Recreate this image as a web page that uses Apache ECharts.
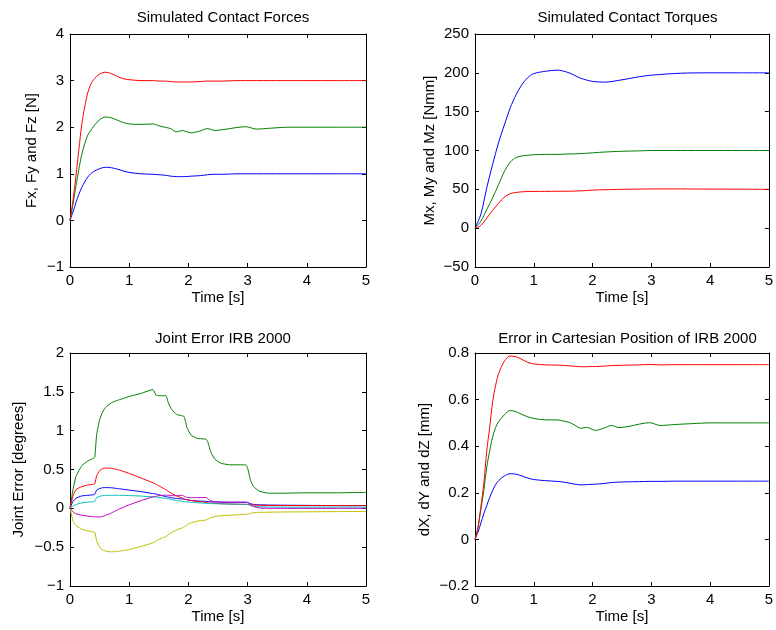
<!DOCTYPE html>
<html>
<head>
<meta charset="utf-8">
<script src="https://cdn.jsdelivr.net/npm/echarts@6/dist/echarts.min.js"></script>
<style>
    html, body { margin: 0; padding: 0; background: #fff; }
    #chart { width: 776px; height: 630px; }
</style>
</head>
<body>
<div id="chart"></div>
<script>
    // time samples [s]
    let tForce = [0, 0.05, 0.1, 0.15, 0.2, 0.25, 0.3, 0.35, 0.4, 0.5, 0.6, 0.7, 0.8, 0.9, 1.0, 1.2, 1.4, 1.5, 1.6, 1.7, 1.8, 1.9, 1.95, 2.05, 2.2, 2.32, 2.45, 2.6, 2.8, 2.97, 3.15, 3.4, 3.7, 4, 4.5, 5];
    let tTorque = [0, 0.1, 0.2, 0.3, 0.4, 0.5, 0.6, 0.7, 0.8, 0.9, 1.0, 1.2, 1.4, 1.6, 1.8, 2.0, 2.2, 2.5, 2.8, 3.0, 3.5, 4, 4.5, 5];
    let tJoint = [0, 0.05, 0.1, 0.2, 0.3, 0.4, 0.42, 0.45, 0.5, 0.55, 0.6, 0.7, 0.8, 1.0, 1.2, 1.4, 1.45, 1.5, 1.62, 1.66, 1.72, 1.8, 1.9, 1.93, 1.98, 2.05, 2.15, 2.3, 2.33, 2.38, 2.45, 2.55, 2.7, 2.97, 3.0, 3.05, 3.1, 3.2, 3.35, 3.6, 4, 4.5, 5];

    // contact forces [N]
    let forceX = [0, 0.18, 0.38, 0.56, 0.71, 0.83, 0.93, 1.0, 1.05, 1.11, 1.14, 1.13, 1.1, 1.06, 1.03, 1.0, 0.99, 0.98, 0.97, 0.95, 0.94, 0.94, 0.94, 0.95, 0.96, 0.98, 0.99, 0.99, 1.0, 1.0, 1.0, 1.0, 1.0, 1.0, 1.0, 1.0];
    let forceY = [0, 0.35, 0.73, 1.1, 1.42, 1.65, 1.83, 1.93, 2.02, 2.16, 2.22, 2.2, 2.15, 2.1, 2.07, 2.06, 2.07, 2.03, 2.0, 1.97, 1.9, 1.93, 1.91, 1.88, 1.92, 1.97, 1.93, 1.95, 1.99, 2.01, 1.96, 1.98, 2.0, 2.0, 2.0, 2.0];
    let forceZ = [0, 0.42, 0.95, 1.52, 2.07, 2.44, 2.74, 2.92, 3.02, 3.14, 3.18, 3.15, 3.09, 3.04, 3.02, 3.0, 3.0, 2.99, 2.99, 2.98, 2.97, 2.97, 2.97, 2.97, 2.98, 2.99, 2.99, 2.99, 3.0, 3.0, 3.0, 3.0, 3.0, 3.0, 3.0, 3.0];

    // contact torques [Nmm]
    let torqueX = [0, 3.5, 13, 23, 32, 40, 44.5, 46, 46.8, 47.2, 47.3, 47.4, 47.5, 47.6, 48, 49, 49.5, 50, 50.3, 50.5, 50.5, 50.3, 50.2, 50];
    let torqueY = [0, 9, 24, 39, 56, 73, 85, 91, 93, 94, 94.5, 95, 95, 95.5, 96, 97, 98, 99, 99.5, 100, 100, 100, 100, 100];
    let torqueZ = [0, 18, 52, 82, 110, 133, 155, 172, 185, 194, 199, 202, 203.5, 200, 193, 189, 188, 191, 195, 197, 199.5, 200, 200, 200];

    // joint errors [degrees]
    let joint1 = [0, 0.09, 0.13, 0.16, 0.167, 0.175, 0.18, 0.235, 0.255, 0.265, 0.267, 0.265, 0.255, 0.235, 0.215, 0.19, 0.185, 0.175, 0.15, 0.145, 0.135, 0.127, 0.12, 0.118, 0.11, 0.1, 0.095, 0.09, 0.088, 0.085, 0.082, 0.08, 0.078, 0.077, 0.075, 0.06, 0.05, 0.045, 0.042, 0.04, 0.038, 0.036, 0.035];
    let joint2 = [0, 0.24, 0.41, 0.55, 0.61, 0.645, 0.66, 0.95, 1.14, 1.24, 1.3, 1.36, 1.39, 1.44, 1.48, 1.53, 1.46, 1.45, 1.45, 1.36, 1.27, 1.21, 1.19, 1.18, 1.03, 0.94, 0.9, 0.89, 0.85, 0.72, 0.63, 0.58, 0.56, 0.56, 0.52, 0.36, 0.28, 0.22, 0.195, 0.195, 0.2, 0.2, 0.205];
    let joint3 = [0, 0.16, 0.24, 0.28, 0.3, 0.31, 0.32, 0.42, 0.485, 0.51, 0.52, 0.515, 0.5, 0.45, 0.39, 0.33, 0.31, 0.29, 0.24, 0.22, 0.19, 0.16, 0.13, 0.12, 0.11, 0.1, 0.09, 0.075, 0.07, 0.068, 0.064, 0.06, 0.055, 0.05, 0.05, 0.045, 0.042, 0.04, 0.038, 0.037, 0.036, 0.035, 0.035];
    let joint4 = [0, 0.03, 0.05, 0.07, 0.08, 0.085, 0.09, 0.14, 0.155, 0.163, 0.167, 0.168, 0.168, 0.165, 0.158, 0.148, 0.145, 0.14, 0.128, 0.122, 0.113, 0.1, 0.09, 0.087, 0.082, 0.077, 0.072, 0.065, 0.063, 0.061, 0.06, 0.057, 0.055, 0.052, 0.05, 0.035, 0.025, 0.02, 0.017, 0.015, 0.015, 0.015, 0.015];
    let joint5 = [0, -0.045, -0.07, -0.09, -0.1, -0.108, -0.11, -0.11, -0.112, -0.105, -0.09, -0.06, -0.02, 0.045, 0.1, 0.148, 0.155, 0.162, 0.17, 0.168, 0.163, 0.162, 0.168, 0.155, 0.14, 0.137, 0.137, 0.14, 0.12, 0.095, 0.086, 0.08, 0.078, 0.08, 0.075, 0.05, 0.025, 0.005, 0, 0, 0, 0, 0];
    let joint6 = [0, -0.16, -0.22, -0.27, -0.29, -0.305, -0.31, -0.42, -0.5, -0.535, -0.55, -0.56, -0.555, -0.53, -0.49, -0.445, -0.425, -0.4, -0.365, -0.34, -0.31, -0.28, -0.25, -0.24, -0.21, -0.185, -0.165, -0.15, -0.14, -0.12, -0.105, -0.095, -0.088, -0.077, -0.075, -0.065, -0.056, -0.052, -0.05, -0.047, -0.045, -0.042, -0.04];

    // cartesian position error [mm]
    let posX = [0, 0.03, 0.07, 0.11, 0.145, 0.18, 0.21, 0.235, 0.252, 0.272, 0.282, 0.28, 0.272, 0.263, 0.257, 0.252, 0.249, 0.246, 0.242, 0.237, 0.234, 0.235, 0.236, 0.237, 0.24, 0.244, 0.246, 0.247, 0.248, 0.249, 0.249, 0.25, 0.25, 0.25, 0.25, 0.25];
    let posY = [0, 0.05, 0.13, 0.21, 0.31, 0.38, 0.44, 0.48, 0.505, 0.535, 0.553, 0.548, 0.536, 0.526, 0.519, 0.513, 0.513, 0.508, 0.503, 0.49, 0.477, 0.481, 0.477, 0.468, 0.478, 0.489, 0.48, 0.484, 0.495, 0.501, 0.489, 0.493, 0.497, 0.5, 0.5, 0.5];
    let posZ = [0, 0.05, 0.14, 0.24, 0.38, 0.48, 0.59, 0.66, 0.71, 0.765, 0.787, 0.784, 0.772, 0.76, 0.753, 0.749, 0.748, 0.747, 0.745, 0.743, 0.741, 0.741, 0.742, 0.742, 0.744, 0.746, 0.747, 0.748, 0.749, 0.751, 0.749, 0.75, 0.75, 0.75, 0.75, 0.75];

    let BLUE = '#0000ff', GREEN = '#008000', RED = '#ff0000';
    let CYAN = '#00bfbf', MAGENTA = '#bf00bf', YELLOW = '#bfbf00';
    let FONT = 'Liberation Sans';

    let panels = [
        {title: 'Simulated Contact Forces', yName: 'Fx, Fy and Fz [N]', left: 70, top: 34, width: 296, titleTop: 5,
            min: -1, max: 4, interval: 1, gap: 31, t: tForce, smooth: 0.3,
            lines: [[forceX, BLUE], [forceY, GREEN], [forceZ, RED]]},
        {title: 'Simulated Contact Torques', yName: 'Mx, My and Mz [Nmm]', left: 475, top: 34, width: 295, titleTop: 5,
            min: -50, max: 250, interval: 50, gap: 38, t: tTorque, smooth: 0.3,
            lines: [[torqueZ, BLUE], [torqueY, GREEN], [torqueX, RED]]},
        {title: 'Joint Error IRB 2000', yName: 'Joint Error [degrees]', left: 70, top: 353, width: 296, titleTop: 326,
            min: -1, max: 2, interval: 0.5, gap: 44, t: tJoint, smooth: 0.12,
            lines: [[joint1, BLUE], [joint2, GREEN], [joint3, RED], [joint4, CYAN], [joint5, MAGENTA], [joint6, YELLOW]]},
        {title: 'Error in Cartesian Position of IRB 2000', yName: 'dX, dY and dZ [mm]', left: 475, top: 353, width: 295, titleTop: 326,
            min: -0.2, max: 0.8, interval: 0.2, gap: 43, t: tForce, smooth: 0.3,
            lines: [[posX, BLUE], [posY, GREEN], [posZ, RED]]}
    ];

    function zip(t, v) {
        return t.map(function (x, i) { return [x, v[i]]; });
    }
    function minus(v) {
        let s = String(Math.round(v * 1000) / 1000);
        return s.replace('-', '\u2212');
    }

    let axisLine = {onZero: false, lineStyle: {color: '#000', width: 1}};
    let tick = {inside: true, length: 4, lineStyle: {color: '#000'}};
    let labelStyle = {color: '#000', fontFamily: FONT, fontSize: 15};

    let option = {
        animation: false,
        backgroundColor: '#fff',
        title: [], grid: [], xAxis: [], yAxis: [], series: []
    };

    panels.forEach(function (p, i) {
        option.title.push({
            text: p.title, left: p.left + p.width / 2, top: p.titleTop, textAlign: 'center',
            textStyle: {color: '#000', fontFamily: FONT, fontSize: 15, fontWeight: 'normal'}
        });
        option.grid.push({left: p.left, top: p.top, width: p.width, height: 233});
        // bottom + top x axes
        option.xAxis.push({
            type: 'value', gridIndex: i, min: 0, max: 5, interval: 1, position: 'bottom',
            name: 'Time [s]', nameLocation: 'middle', nameGap: 23,
            nameTextStyle: labelStyle,
            axisLine: axisLine, axisTick: tick, splitLine: {show: false},
            axisLabel: Object.assign({margin: 6}, labelStyle)
        });
        option.xAxis.push({
            type: 'value', gridIndex: i, min: 0, max: 5, interval: 1, position: 'top',
            axisLine: axisLine, axisTick: tick, splitLine: {show: false}, axisLabel: {show: false}
        });
        // left + right y axes
        option.yAxis.push({
            type: 'value', gridIndex: i, min: p.min, max: p.max, interval: p.interval, position: 'left',
            name: p.yName, nameLocation: 'middle', nameGap: p.gap, nameRotate: 90,
            nameTextStyle: labelStyle,
            axisLine: axisLine, axisTick: tick, splitLine: {show: false},
            axisLabel: Object.assign({margin: 6, formatter: minus}, labelStyle)
        });
        option.yAxis.push({
            type: 'value', gridIndex: i, min: p.min, max: p.max, interval: p.interval, position: 'right',
            axisLine: axisLine, axisTick: tick, splitLine: {show: false}, axisLabel: {show: false}
        });
        p.lines.forEach(function (l) {
            option.series.push({
                type: 'line', xAxisIndex: i * 2, yAxisIndex: i * 2,
                data: zip(p.t, l[0]), showSymbol: false, smooth: p.smooth,
                lineStyle: {color: l[1], width: 1}, itemStyle: {color: l[1]}
            });
        });
    });

    let chart = echarts.init(document.getElementById('chart'), null, {renderer: 'canvas'});
    chart.setOption(option);
</script>
</body>
</html>
